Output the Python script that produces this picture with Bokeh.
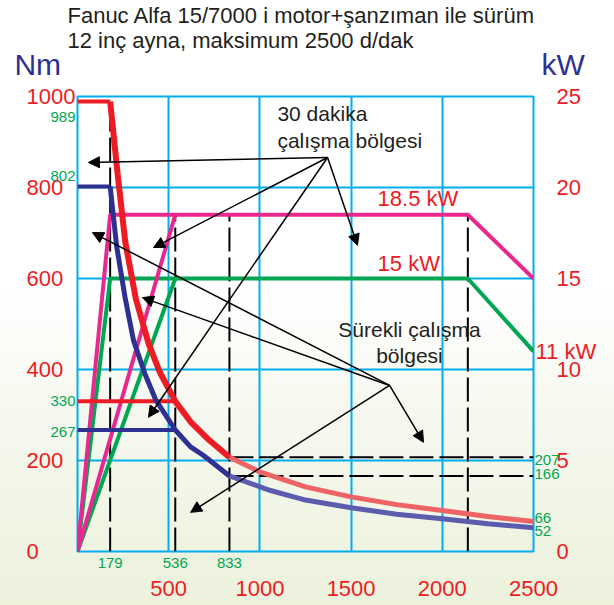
from bokeh.plotting import figure
from bokeh.models import (Range1d, LinearAxis, FixedTicker, Label, Arrow, NormalHead,
                          InlineStyleSheet, ColumnDataSource, GridBox)
from bokeh.embed import file_html
from bokeh.resources import INLINE

# ---------------- data ----------------
title_lines = ["Fanuc Alfa 15/7000 i motor+şanzıman ile sürüm",
               "12 inç ayna, maksimum 2500 d/dak"]
unit_left = "Nm"
unit_right = "kW"

# torque curves (rpm, Nm)
red_rpm = [0, 179, 220, 262, 320, 389, 450, 536, 620, 713, 833, 1000, 1250, 1500, 1750, 2000, 2250, 2500]
red_nm = [989, 989, 830, 680, 555, 458, 395, 330, 285, 248, 207, 175, 142, 120, 103, 90, 77, 66]
blue_rpm = [0, 179, 215, 260, 307, 370, 428, 536, 620, 691, 833, 1058, 1250, 1500, 1750, 2000, 2250, 2500]
blue_nm = [802, 802, 670, 560, 464, 390, 334, 267, 230, 211, 166, 134, 113, 96, 82, 72, 61, 52]
red_high_rpm = [0, 536]
red_high_nm = [330, 330]
blue_high_rpm = [0, 536]
blue_high_nm = [267, 267]

# power curves (rpm, kW)
s3_rpm = [0, 179, 2140, 2500]
s3_kw = [0, 18.5, 18.5, 15]
s1_rpm = [0, 179, 2140, 2500]
s1_kw = [0, 15, 15, 11]
s3_high_rpm = [0, 536]
s3_high_kw = [0, 18.5]
s1_high_rpm = [0, 536]
s1_high_kw = [0, 15]

# key speeds and reference torques
key_rpm = [179, 536, 833, 2140]
key_top_nm = [989, 740, 740, 740]
ref_torque_nm = [207, 166]
ref_rpm_from = [833, 833]
ref_rpm_to = [2500, 2500]

# ticks
nm_ticks = [0, 200, 400, 600, 800, 1000]
kw_ticks = [0, 5, 10, 15, 20, 25]
rpm_ticks = [500, 1000, 1500, 2000, 2500]
rpm_grid = [500, 1000, 1500, 2000]
nm_grid = [200, 400, 600, 800]

# marked values
left_marks = [989, 802, 330, 267]
right_marks = [207, 166, 66, 52]
bottom_marks = [179, 536, 833]

# ---------------- styles / placement ----------------
RED = "#ed1c24"
BLUE = "#2e3192"
MAG = "#e6288f"
GRN = "#00a651"
CYAN = "#00aeef"
TXT = "#231f20"
FONT = "Liberation Sans"
FS = "\u2007"  # figure space (digit wide)

W, H = 614, 605
B_LEFT, B_RIGHT, B_TOP, B_BOTTOM = 77, 81, 96, 54
X0, X1, Y0, Y1 = 0, 2500, 0, 1000
KW_MAX = 25
NM_PER_KW = (Y1 - Y0) / KW_MAX

left_mark_pos = [956, 826, 330, 262]     # where the green left labels sit (Nm scale)
right_mark_pos = [202, 171, 73, 44]      # where the green right labels sit (Nm scale)

arrow_src = ColumnDataSource(dict(
    x0=[1371, 1371, 1371, 1371, 1711, 1711, 1711, 1711],
    y0=[866, 866, 866, 866, 365, 365, 365, 365],
    x1=[60, 417, 389, 1535, 82, 356, 620, 1897],
    y1=[855, 668, 295, 673, 701, 558, 86, 240],
))

# ---------------- main chart ----------------
p = figure(width=W, height=H, output_backend="svg", toolbar_location=None,
           x_range=Range1d(X0, X1), y_range=Range1d(Y0, Y1),
           x_axis_location=None, y_axis_location=None, title=None,
           min_border_left=B_LEFT, min_border_right=B_RIGHT,
           min_border_top=B_TOP, min_border_bottom=B_BOTTOM)
p.extra_y_ranges = {"kw": Range1d(0, KW_MAX)}
p.frame_align = False
p.background_fill_alpha = 0
p.border_fill_alpha = 0
p.outline_line_color = CYAN
p.outline_line_width = 2
p.stylesheets = [InlineStyleSheet(css=":host { background: linear-gradient(to bottom, #ffffff 0%, #ffffff 48%, #f5f8ee 70%, #ecf2dc 100%); }")]

p.xgrid.ticker = FixedTicker(ticks=rpm_grid)
p.ygrid.ticker = FixedTicker(ticks=nm_grid)
for g in (p.xgrid[0], p.ygrid[0]):
    g.grid_line_color = CYAN
    g.grid_line_width = 2
    g.grid_line_alpha = 1

def style_axis(ax, standoff):
    ax.axis_line_color = None
    ax.major_tick_line_color = None
    ax.minor_tick_line_color = None
    ax.major_tick_out = 0
    ax.major_tick_in = 0
    ax.minor_tick_out = 0
    ax.minor_tick_in = 0
    ax.major_label_text_color = RED
    ax.major_label_text_font = FONT
    ax.major_label_text_font_size = "22px"
    ax.major_label_standoff = standoff

ax_l = LinearAxis(ticker=FixedTicker(ticks=nm_ticks),
                  major_label_overrides={t: str(t) + FS * (4 - len(str(t))) for t in nm_ticks})
style_axis(ax_l, 2)
p.add_layout(ax_l, "left")

ax_r = LinearAxis(y_range_name="kw", ticker=FixedTicker(ticks=kw_ticks))
style_axis(ax_r, 23)
p.add_layout(ax_r, "right")

ax_b = LinearAxis(ticker=FixedTicker(ticks=rpm_ticks))
style_axis(ax_b, 29)
p.add_layout(ax_b, "below")

# dashed reference lines
p.segment(x0=key_rpm, y0=[0] * len(key_rpm), x1=key_rpm, y1=key_top_nm,
          line_color="black", line_width=2, line_dash="24 6")
p.segment(x0=ref_rpm_from, y0=ref_torque_nm, x1=ref_rpm_to, y1=ref_torque_nm,
          line_color="black", line_width=2, line_dash="24 6")

# power curves
p.line(s1_rpm, s1_kw, y_range_name="kw", line_color=GRN, line_width=4)
p.line(s1_high_rpm, s1_high_kw, y_range_name="kw", line_color=GRN, line_width=4)
p.line(s3_rpm, s3_kw, y_range_name="kw", line_color=MAG, line_width=4)
p.line(s3_high_rpm, s3_high_kw, y_range_name="kw", line_color=MAG, line_width=4)

# torque curves: flat part, steep part, faded tail
k = red_rpm.index(833)
p.line(blue_high_rpm, blue_high_nm, line_color=BLUE, line_width=4)
p.line(red_high_rpm, red_high_nm, line_color=RED, line_width=4)
p.line(blue_rpm[:2], blue_nm[:2], line_color=BLUE, line_width=4)
p.line(blue_rpm[1:k + 1], blue_nm[1:k + 1], line_color=BLUE, line_width=5)
p.line(blue_rpm[k:], blue_nm[k:], line_color="#5c5cae", line_width=5)
p.line(red_rpm[:2], red_nm[:2], line_color=RED, line_width=4)
p.line(red_rpm[1:k + 1], red_nm[1:k + 1], line_color=RED, line_width=6)
p.line(red_rpm[k:], red_nm[k:], line_color="#ee6466", line_width=5)

p.add_layout(Arrow(x_start="x0", y_start="y0", x_end="x1", y_end="y1", source=arrow_src,
                   line_color="black", line_width=1.5,
                   end=NormalHead(size=11, fill_color="black", line_color="black")))

def lab(fig, x, y, text, color=TXT, size="21px", align="left", xoff=0):
    fig.add_layout(Label(x=x, y=y, x_offset=xoff, text=text, text_color=color, text_font=FONT,
                         text_font_size=size, text_align=align, text_baseline="middle"))

lab(p, 1096, 963, "30 dakika")
lab(p, 1096, 903, "çalışma bölgesi")
lab(p, 1820, 488, "Sürekli çalışma", align="center")
lab(p, 1820, 431, "bölgesi", align="center")
lab(p, 1645, 776, f"{s3_kw[1]} kW", color=RED, size="22px")
lab(p, 1645, 633, f"{s1_kw[1]} kW", color=RED, size="22px")

# ---------------- overlay for texts in the margins (same data scale) ----------------
sx = (W - B_LEFT - B_RIGHT) / (X1 - X0)
sy = (H - B_TOP - B_BOTTOM) / (Y1 - Y0)
ov = figure(width=W, height=H, output_backend="svg", toolbar_location=None,
            x_range=Range1d(X0 - B_LEFT / sx, X1 + B_RIGHT / sx),
            y_range=Range1d(Y0 - B_BOTTOM / sy, Y1 + B_TOP / sy),
            x_axis_location=None, y_axis_location=None, title=None, min_border=0)
ov.frame_align = False
ov.grid.visible = False
ov.outline_line_color = None
ov.background_fill_alpha = 0
ov.border_fill_alpha = 0

lab(ov, -55, 1178, title_lines[0], size="22px")
lab(ov, -55, 1123, title_lines[1], size="22px")
lab(ov, -346, 1070, unit_left, color=BLUE, size="30px")
lab(ov, 2544, 1070, unit_right, color=BLUE, size="30px")

for v, y in zip(left_marks, left_mark_pos):
    lab(ov, X0, y, str(v), color=GRN, size="15px", align="right", xoff=-2)
for v, y in zip(right_marks, right_mark_pos):
    lab(ov, X1, y, str(v), color=GRN, size="15px", align="left", xoff=1)
for v in bottom_marks:
    lab(ov, v, -26, str(v), color=GRN, size="15px", align="center")
lab(ov, X1, s1_kw[-1] * NM_PER_KW, f"{s1_kw[-1]} kW", color=RED, size="22px", xoff=2)

layout = GridBox(children=[(p, 0, 0), (ov, 0, 0)])
open("out.html", "w").write(file_html(layout, INLINE))
